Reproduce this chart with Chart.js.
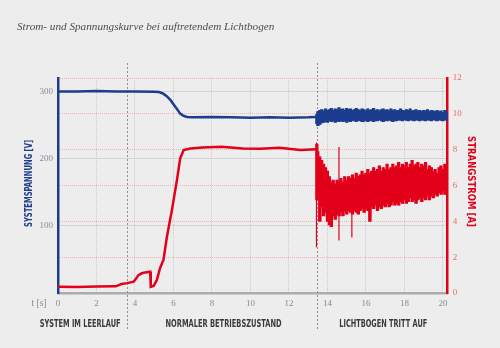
<!DOCTYPE html>
<html><head><meta charset="utf-8">
<script src="https://cdn.jsdelivr.net/npm/chart.js@4.4.1/dist/chart.umd.min.js"></script>
<style>html,body{margin:0;padding:0;background:#ededed;overflow:hidden}#wrap{width:500px;height:348px;position:relative}</style>
</head><body><div id="wrap"><canvas id="c" width="500" height="348"></canvas></div>
<script>
const chartTitle = 'Strom- und Spannungskurve bei auftretendem Lichtbogen';
const phaseLabels = ['SYSTEM IM LEERLAUF', 'NORMALER BETRIEBSZUSTAND', 'LICHTBOGEN TRITT AUF'];
const phaseLabelTimes = [1.15, 8.6, 16.9];
const phaseBounds = [3.58, 13.45];
const xTicks = [0, 2, 4, 6, 8, 10, 12, 14, 16, 18, 20];
const voltTicks = [100, 200, 300];
const currentTicks = [0, 2, 4, 6, 8, 10, 12];

// Systemspannung [V] vor dem Lichtbogen
const voltTime   = [0, 1, 2, 3, 4, 5, 5.25, 5.45, 5.65, 5.85, 6.0, 6.2, 6.35, 6.5, 6.7, 7, 8, 9, 10, 11, 12, 13, 13.42];
const voltValues = [300, 300, 300.5, 300, 300, 299.5, 299, 297, 293, 287, 281, 273, 267, 264, 262, 261.5, 262, 261.5, 261, 261.5, 261, 261.5, 262];

// Strangstrom [A] vor dem Lichtbogen
const currTime   = [0, 1, 2, 3, 3.3, 3.6, 3.93, 4.05, 4.18, 4.35, 4.53, 4.79, 4.82, 4.97, 5.14, 5.3, 5.48, 5.66, 5.92, 6.18, 6.35, 6.53, 6.87, 7.5, 8.5, 9.6, 10.5, 11.5, 12.6, 13.42];
const currValues = [0.35, 0.33, 0.36, 0.37, 0.5, 0.55, 0.63, 0.8, 1.0, 1.1, 1.15, 1.19, 0.35, 0.4, 0.73, 1.38, 1.84, 3.14, 4.63, 6.3, 7.52, 7.98, 8.07, 8.12, 8.16, 8.07, 8.05, 8.1, 7.98, 8.02];

// Lichtbogen: obere / untere Ausschläge der verrauschten Signale
const arcTime = [13.45, 13.5, 13.6, 13.7, 13.8, 13.9, 14.0, 14.1, 14.2, 14.3, 14.4, 14.5, 14.6, 14.7, 14.8, 14.9,
  15.0, 15.1, 15.2, 15.3, 15.4, 15.5, 15.6, 15.7, 15.8, 15.9, 16.0, 16.1, 16.2, 16.3, 16.4, 16.5, 16.6, 16.7, 16.8, 16.9,
  17.0, 17.1, 17.2, 17.3, 17.4, 17.5, 17.6, 17.7, 17.8, 17.9, 18.0, 18.1, 18.2, 18.3, 18.4, 18.5, 18.6, 18.7, 18.8, 18.9,
  19.0, 19.1, 19.2, 19.3, 19.4, 19.5, 19.6, 19.7, 19.8, 19.9, 20.0, 20.1, 20.2];
const arcCurrUpper = [8.3, 7.9, 7.6, 7.4, 7.2, 7.0, 6.8, 6.5, 6.2, 6.3, 6.1, 6.3, 6.2, 6.4, 6.2, 6.5,
  6.3, 6.5, 6.4, 6.6, 6.4, 6.7, 6.5, 6.6, 6.8, 6.6, 6.7, 6.9, 6.7, 6.8, 7.0, 6.8, 6.9, 7.1, 6.8, 7.0,
  6.9, 7.2, 6.9, 7.0, 7.2, 7.0, 7.1, 7.3, 7.0, 7.2, 7.1, 7.3, 7.0, 7.2, 7.4, 7.1, 7.2, 7.3, 7.0, 7.2,
  7.1, 7.3, 6.9, 7.1, 7.0, 6.8, 6.9, 6.7, 7.0, 7.1, 6.9, 7.2, 7.0];
const arcCurrLower = [5.2, 5.6, 4.0, 4.8, 4.3, 4.5, 4.0, 3.8, 3.7, 4.3, 4.1, 4.4, 4.3, 4.5, 4.3, 4.6,
  4.4, 4.6, 4.5, 4.4, 4.6, 4.5, 4.4, 4.6, 4.7, 4.5, 4.7, 4.6, 4.0, 4.8, 4.7, 4.9, 4.6, 4.8, 4.7, 4.9,
  4.8, 5.0, 4.8, 4.9, 5.1, 4.9, 5.0, 4.9, 5.1, 5.0, 5.2, 5.0, 5.1, 5.3, 5.1, 5.2, 5.0, 5.2, 5.3, 5.1,
  5.3, 5.2, 5.4, 5.2, 5.4, 5.3, 5.5, 5.4, 5.6, 5.5, 5.7, 5.5, 5.6];
const arcVoltUpper = [266, 270, 272, 273, 271, 274, 272, 273, 275, 272, 274, 273, 276, 273, 274, 272,
  275, 273, 274, 272, 273, 275, 273, 272, 274, 273, 271, 274, 272, 273, 275, 272, 273, 271, 273, 274,
  272, 273, 271, 274, 272, 273, 271, 272, 274, 272, 271, 273, 272, 274, 271, 272, 273, 271, 272, 270,
  272, 271, 273, 270, 272, 271, 270, 272, 270, 271, 269, 272, 270];
const arcVoltLower = [252, 249, 251, 253, 254, 255, 254, 256, 255, 256, 254, 256, 255, 257, 255, 256,
  254, 256, 255, 257, 256, 255, 257, 256, 255, 257, 256, 255, 257, 256, 255, 257, 256, 258, 256, 255,
  257, 256, 258, 256, 255, 257, 256, 258, 257, 256, 258, 257, 256, 258, 257, 256, 258, 257, 256, 258,
  257, 256, 258, 257, 256, 258, 257, 256, 258, 257, 256, 258, 257];
const arcHalfStep = 0.05; // Versatz zwischen oberem und unterem Ausschlag

// Einzelne Stromspitzen
const spikeTime   = [13.43, 14.6, 15.27];
const spikeTop    = [8.4, 8.15, 4.5];
const spikeBottom = [2.55, 2.93, 3.1];

const BLUE = '#1c3d8e';
const RED = '#e2001a';
const pts = (xs, ys) => xs.map((x, i) => ({x, y: ys[i]}));
const ranges = (xs, hi, lo) => xs.map((x, i) => ({x, y: [lo[i], hi[i]]}));
const zigzag = (xs, hi, lo) => {
  const out = [];
  xs.forEach((x, i) => { out.push({x, y: hi[i]}, {x: x + arcHalfStep, y: lo[i]}); });
  return out;
};
const spikePts = [];
spikeTime.forEach((t, i) => { spikePts.push({x: t, y: spikeTop[i]}, {x: t, y: spikeBottom[i]}, {x: t, y: null}); });

const condensed = '"DejaVu Sans Condensed", "DejaVu Sans", sans-serif';
const serif = '"Liberation Serif", "DejaVu Serif", serif';

const overlay = {
  id: 'overlay',
  beforeDatasetsDraw(chart) {
    const ctx = chart.ctx, xs = chart.scales.x;
    ctx.save();
    ctx.strokeStyle = '#8f8f8f';
    ctx.lineWidth = 1;
    ctx.setLineDash([2, 2]);
    phaseBounds.forEach(t => {
      const px = Math.round(xs.getPixelForValue(t)) + 0.5;
      ctx.beginPath(); ctx.moveTo(px, 63); ctx.lineTo(px, 331); ctx.stroke();
    });
    ctx.restore();
  },
  afterDraw(chart) {
    const ctx = chart.ctx, xs = chart.scales.x, ca = chart.chartArea;
    ctx.save();
    ctx.fillStyle = '#4d4d4d';
    ctx.font = 'italic 11.2px ' + serif;
    ctx.textBaseline = 'middle';
    ctx.textAlign = 'left';
    ctx.fillText(chartTitle, 17, 27);
    ctx.fillStyle = '#8a8a8a';
    ctx.font = '9.5px ' + serif;
    ctx.textAlign = 'center';
    ctx.fillText('t [s]', 39, 303);
    ctx.fillStyle = '#3a3a3a';
    ctx.font = 'bold 10.5px ' + condensed;
    const phaseWidths = [81, 116, 88];
    phaseLabels.forEach((lab, i) => ctx.fillText(lab, xs.getPixelForValue(phaseLabelTimes[i]), 324.5, phaseWidths[i]));
    // Achsentitel
    const midY = (ca.top + ca.bottom) / 2;
    ctx.font = 'bold 10.5px ' + condensed;
    ctx.save();
    ctx.translate(29, midY - 2);
    ctx.rotate(-Math.PI / 2);
    ctx.fillStyle = BLUE;
    ctx.fillText('SYSTEMSPANNUNG [V]', 0, 0, 87);
    ctx.restore();
    ctx.save();
    ctx.translate(471, midY - 4);
    ctx.rotate(Math.PI / 2);
    ctx.fillStyle = RED;
    ctx.fillText('STRANGSTROM [A]', 0, 0, 91);
    ctx.restore();
    ctx.restore();
  }
};

const bandStyle = {type: 'bar', grouped: false, barThickness: 2.6, borderWidth: 0, borderSkipped: false};
const zigStyle = {pointRadius: 0, tension: 0, borderWidth: 1.3, borderJoinStyle: 'bevel', fill: false};

new Chart(document.getElementById('c'), {
  type: 'line',
  data: {
    datasets: [
      {data: pts(voltTime, voltValues), yAxisID: 'y', borderColor: BLUE, borderWidth: 2.5, pointRadius: 0, tension: 0},
      {...bandStyle, data: ranges(arcTime, arcVoltUpper, arcVoltLower), yAxisID: 'y', backgroundColor: BLUE},
      {...zigStyle, data: zigzag(arcTime, arcVoltUpper, arcVoltLower), yAxisID: 'y', borderColor: BLUE},
      {data: pts(currTime, currValues), yAxisID: 'y2', borderColor: RED, borderWidth: 2.5, pointRadius: 0, tension: 0},
      {...bandStyle, data: ranges(arcTime, arcCurrUpper, arcCurrLower), yAxisID: 'y2', backgroundColor: RED},
      {...zigStyle, data: zigzag(arcTime, arcCurrUpper, arcCurrLower), yAxisID: 'y2', borderColor: RED},
      {data: spikePts, yAxisID: 'y2', borderColor: RED, borderWidth: 1.2, pointRadius: 0, spanGaps: false}
    ]
  },
  options: {
    responsive: false,
    animation: false,
    events: [],
    layout: {padding: {left: 0, right: 0, top: 78, bottom: 25}},
    plugins: {legend: {display: false}, tooltip: {enabled: false}, title: {display: false}},
    scales: {
      x: {
        type: 'linear', min: 0, max: 20.25, offset: false,
        afterFit: s => { s.height = 30; },
        afterBuildTicks: s => { s.ticks = xTicks.map(v => ({value: v})); },
        ticks: {padding: 5, color: '#8a8a8a', font: {family: serif, size: 9}, maxRotation: 0},
        grid: {offset: false, color: c => c.tick && c.tick.value === 0 ? 'rgba(0,0,0,0)' : '#cacaca', lineWidth: 1, drawTicks: false},
        border: {display: true, color: '#acacac', width: 2.5, dash: [1, 1]}
      },
      y: {
        position: 'left', min: 0, max: 320,
        afterFit: s => { s.width = 58; },
        afterBuildTicks: s => { s.ticks = voltTicks.map(v => ({value: v})); },
        ticks: {padding: 5, color: '#8a8a9a', font: {family: serif, size: 9}},
        grid: {color: '#b9b9c6', lineWidth: 1, drawTicks: false},
        border: {display: true, color: BLUE, width: 2.5, dash: [1, 1]}
      },
      y2: {
        position: 'right', min: 0, max: 12,
        afterFit: s => { s.width = 52.3; },
        afterBuildTicks: s => { s.ticks = currentTicks.map(v => ({value: v})); },
        ticks: {padding: 5, color: '#e6705f', font: {family: serif, size: 9}},
        grid: {color: '#f0b6aa', lineWidth: 1, drawTicks: false},
        border: {display: true, color: RED, width: 2.5, dash: [1, 1]}
      }
    }
  },
  plugins: [overlay]
});
</script>
</body></html>
